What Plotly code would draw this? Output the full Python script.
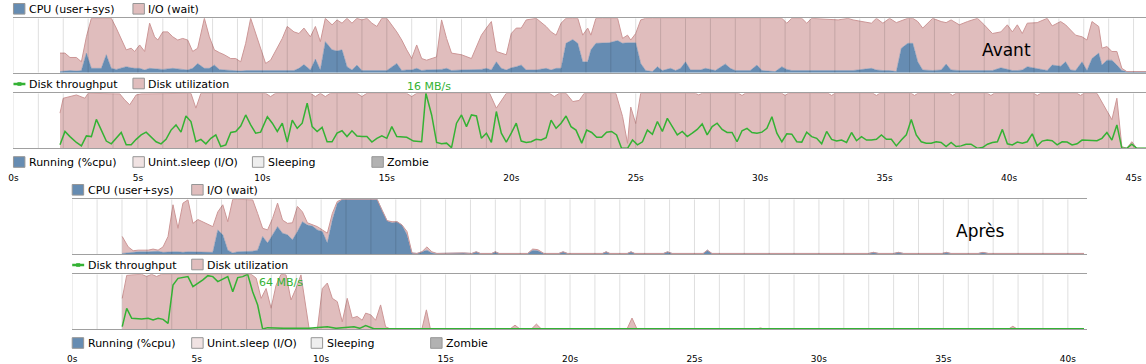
import plotly.graph_objects as go

# ---------------- DATA ----------------
# "Avant" CPU panel (time in s, percent)
avant_t = [1.87, 2.07, 2.27, 2.53, 2.73, 2.93, 3.13, 3.33, 3.53, 3.73, 3.93, 4.13, 4.33, 4.53, 4.73, 4.87, 5.07, 5.27,
           5.47, 5.67, 5.80, 6.00, 6.20, 6.40, 6.60, 6.80, 7.00, 7.20, 7.40, 7.67, 7.87, 8.07, 8.27, 8.47, 8.73, 8.93,
           9.13, 9.33, 9.53, 9.73, 9.93, 10.13, 10.33, 10.80, 11.00, 11.27, 11.47, 11.67, 11.93, 12.13, 12.33, 12.53,
           12.80, 13.00, 13.20, 13.40, 13.60, 13.80, 14.00, 14.20, 14.40, 14.60, 14.80, 15.00, 15.40, 15.60, 15.80,
           16.00, 16.20, 16.40, 16.60, 17.00, 17.20, 17.40, 17.60, 18.00, 18.40, 18.80, 19.00, 19.20, 19.40, 19.60,
           19.80, 20.00, 20.20, 20.40, 20.60, 21.00, 21.40, 21.60, 21.80, 22.00, 22.20, 22.47, 22.67, 22.87, 23.07,
           23.20, 23.40, 23.67, 23.93, 24.27, 24.47, 24.67, 24.80, 25.00, 25.20, 25.40, 25.67, 25.87, 26.07, 26.40,
           26.60, 26.80, 27.00, 27.20, 27.60, 27.80, 28.20, 28.60, 28.80, 29.00, 29.60, 29.87, 30.07, 30.60, 30.87,
           31.07, 31.27, 31.67, 31.87, 32.07, 33.13, 33.53, 33.73, 34.47, 34.67, 34.93, 35.20, 35.47, 35.67, 35.93,
           36.13, 36.33, 36.53, 36.93, 37.27, 37.47, 37.67, 38.00, 38.33, 38.73, 39.00, 39.33, 39.67, 39.93, 40.13,
           40.33, 40.53, 40.73, 41.13, 41.53, 41.73, 42.07, 42.27, 42.47, 42.67, 42.93, 43.13, 43.33, 43.60, 43.73,
           43.93, 44.13, 44.33, 44.53, 44.73, 45.51]
avant_cpu = [2, 3, 4, 3, 4, 36, 8, 8, 8, 33, 8, 6, 8, 11, 9, 8, 8, 5,
             8, 7, 6, 6, 7, 8, 7, 6, 5, 8, 17, 8, 8, 14, 6, 5, 4, 4,
             3, 4, 4, 4, 4, 4, 3, 4, 4, 4, 8, 15, 5, 25, 5, 57,
             42, 40, 42, 11, 5, 14, 4, 4, 4, 4, 4, 4, 17, 4, 5,
             5, 8, 4, 5, 6, 6, 8, 4, 5, 5, 6, 8, 5, 20, 8,
             5, 9, 11, 14, 5, 5, 8, 5, 8, 8, 54, 61, 54, 20, 20,
             42, 54, 54, 55, 59, 54, 55, 55, 55, 17, 4, 2, 11, 4, 8,
             4, 8, 20, 5, 5, 8, 4, 16, 8, 4, 4, 14, 4, 2, 11,
             6, 4, 4, 4, 4, 4, 4, 4, 8, 5, 4, 4, 2, 45, 54,
             54, 20, 5, 4, 5, 16, 5, 4, 4, 4, 4, 4, 9, 6, 4,
             4, 5, 11, 8, 4, 14, 12, 20, 5, 4, 20, 4, 26, 36, 14,
             23, 23, 14, 4, 2, 2]
avant_io = [34, 33, 24, 25, 16, 30, 92, 92, 92, 67, 92, 76, 53, 31, 36, 31, 43, 34,
            83, 59, 54, 69, 68, 58, 53, 57, 55, 31, 28, 92, 58, 28, 31, 28, 22, 22,
            17, 50, 96, 68, 41, 13, 20, 59, 81, 71, 64, 67, 61, 60, 52, 43,
            46, 57, 49, 89, 86, 86, 93, 96, 87, 81, 96, 96, 58, 56, 37,
            21, 43, 22, 18, 23, 91, 55, 32, 28, 21, 63, 74, 89, 19, 28,
            28, 63, 71, 68, 92, 95, 77, 70, 61, 83, 46, 39, 46, 49, 62,
            27, 46, 46, 45, 41, 9, 14, 5, 17, 80, 96, 98, 89, 96, 92,
            96, 92, 80, 95, 95, 92, 96, 84, 92, 96, 96, 86, 96, 98, 89,
            85, 96, 96, 87, 96, 93, 96, 93, 83, 95, 87, 96, 90, 51, 46,
            46, 74, 77, 96, 89, 76, 92, 84, 90, 96, 84, 68, 66, 82, 71,
            84, 67, 80, 84, 96, 72, 82, 68, 74, 65, 46, 56, 68, 49, 31,
            25, 16, 25, 4, 0, 0]

# "Avant" disk utilization (percent)
avant_util_t = [1.87, 2.00, 2.53, 2.87, 3.00, 4.27, 4.47, 4.67, 4.93, 5.13, 7.13, 7.33, 7.53, 10.13, 10.33, 10.53,
                11.93, 12.13, 12.33, 12.53, 12.73, 13.80, 14.00, 14.20, 15.80, 16.00, 16.20, 19.13, 19.40, 19.80,
                21.53, 21.73, 21.93, 22.20, 22.47, 22.73, 22.93, 24.20, 24.47, 24.67, 24.80, 25.00, 25.20, 27.40,
                27.53, 27.67, 29.13, 29.27, 29.40, 30.87, 31.00, 31.13, 32.73, 32.87, 33.00, 34.53, 34.67, 34.80,
                36.07, 36.20, 36.33, 37.60, 37.73, 37.87, 39.13, 39.27, 39.40, 41.00, 41.13, 41.27, 42.73, 42.87,
                43.00, 43.53, 44.13, 44.33, 44.53, 44.73, 44.93, 45.13, 45.51]
avant_util = [64, 91, 97, 91, 100, 99, 88, 79, 97, 99, 100, 73, 100, 100, 94, 100,
              100, 94, 100, 94, 100, 100, 94, 100, 100, 94, 100, 100, 73, 100,
              100, 94, 100, 100, 85, 87, 100, 100, 58, 9, 75, 45, 100, 100,
              97, 100, 100, 96, 100, 100, 96, 100, 100, 96, 100, 100, 96, 100,
              100, 96, 100, 100, 96, 100, 100, 96, 100, 100, 96, 100, 100, 96,
              100, 100, 52, 91, 3, 0, 12, 0, 0]

# "Avant" disk throughput (MB/s)
avant_tput_t = [1.87, 2.07, 2.27, 2.53, 2.73, 2.93, 3.13, 3.33, 3.53, 3.73, 3.93, 4.13, 4.33, 4.53, 4.73, 4.93,
                5.13, 5.33, 5.53, 5.73, 5.93, 6.13, 6.33, 6.53, 6.73, 6.93, 7.13, 7.33, 7.53, 7.73, 7.93, 8.13,
                8.33, 8.53, 8.73, 8.93, 9.13, 9.33, 9.53, 9.73, 9.93, 10.20, 10.40, 10.60, 10.80, 11.00, 11.20,
                11.40, 11.60, 11.80, 12.00, 12.20, 12.40, 12.60, 12.80, 13.00, 13.20, 13.40, 13.60, 13.80, 14.00,
                14.20, 14.40, 14.60, 14.80, 15.00, 15.20, 15.40, 15.80, 16.07, 16.40, 16.57, 16.80, 17.00, 17.20,
                17.40, 17.60, 17.80, 18.00, 18.20, 18.40, 18.60, 18.80, 19.00, 19.20, 19.40, 19.60, 19.80, 20.00,
                20.20, 20.40, 20.60, 20.80, 21.00, 21.20, 21.40, 21.60, 21.80, 22.00, 22.20, 22.40, 22.60, 22.83,
                23.03, 23.23, 23.43, 23.63, 23.83, 24.03, 24.23, 24.43, 24.67, 24.87, 25.07, 25.27, 25.47, 25.67,
                25.87, 26.07, 26.27, 26.47, 26.67, 26.87, 27.07, 27.27, 27.47, 27.67, 27.87, 28.07, 28.27, 28.47,
                28.67, 28.87, 29.07, 29.27, 29.47, 29.67, 29.87, 30.07, 30.27, 30.47, 30.67, 30.87, 31.07, 31.27,
                31.47, 31.67, 31.87, 32.07, 32.27, 32.47, 32.67, 32.87, 33.07, 33.27, 33.47, 33.67, 33.87, 34.07,
                34.27, 34.47, 34.67, 34.87, 35.07, 35.27, 35.47, 35.67, 35.87, 36.07, 36.27, 36.47, 36.67, 36.87,
                37.07, 37.27, 37.47, 37.67, 37.87, 38.07, 38.27, 38.47, 38.73, 38.93, 39.13, 39.33, 39.53, 39.73,
                39.93, 40.13, 40.33, 40.53, 40.73, 40.93, 41.13, 41.33, 41.53, 41.73, 41.93, 42.13, 42.33, 42.53,
                42.73, 42.93, 43.13, 43.33, 43.53, 43.73, 43.93, 44.13, 44.33, 44.53, 44.73, 44.93, 45.13, 45.51]
avant_tput = [1.0, 4.9, 3.4, 1.7, 0.7, 3.6, 3.4, 8.4, 5.3, 2.1, 1.3, 2.9, 4.6, 1.0, 1.0, 2.6,
              3.9, 4.7, 3.4, 1.9, 1.3, 2.6, 5.3, 6.8, 4.7, 9.4, 7.8, 1.9, 2.6, 1.3, 2.9, 3.9,
              0.5, 1.0, 4.6, 4.9, 6.5, 9.7, 6.8, 4.4, 4.7, 9.2, 7.3, 4.9, 7.3, 1.8, 8.2,
              5.8, 7.3, 13.1, 6.3, 4.9, 6.1, 1.9, 1.9, 4.4, 5.1, 3.4, 5.1, 3.6, 3.4,
              3.4, 1.8, 2.9, 3.6, 2.9, 6.3, 3.4, 3.2, 2.1, 1.9, 16.0, 9.7, 1.7, 1.3,
              1.5, 0.2, 7.3, 9.7, 6.3, 9.7, 9.4, 2.9, 4.4, 1.7, 10.7, 4.4, 1.8, 4.4,
              7.3, 2.1, 1.7, 1.9, 2.6, 2.4, 3.1, 8.2, 5.8, 7.3, 9.4, 6.3, 5.3, 1.5,
              5.3, 4.6, 3.2, 3.2, 4.7, 4.9, 3.9, 0.0, 0.0, 2.4, 1.0, 1.9, 5.3, 4.1,
              7.8, 4.9, 8.7, 6.3, 3.9, 4.9, 3.4, 4.4, 5.5, 7.1, 3.9, 6.3, 7.3, 5.5,
              4.6, 4.6, 1.9, 5.1, 5.8, 4.6, 4.4, 4.7, 5.8, 9.2, 4.4, 1.9, 4.2, 4.1,
              1.9, 1.8, 4.7, 3.4, 2.9, 1.3, 4.9, 2.6, 2.1, 2.4, 1.7, 4.6, 2.2, 3.4,
              2.4, 2.4, 2.6, 3.9, 2.6, 2.6, 0.7, 2.4, 3.9, 8.4, 3.9, 1.9, 1.5, 1.5,
              1.9, 1.7, 0.5, 1.7, 0.5, 0.7, 1.2, 1.2, 0.0, 0.2, 1.2, 1.7, 1.9, 5.5,
              1.3, 1.0, 1.8, 1.5, 1.9, 4.2, 0.7, 2.1, 2.4, 2.2, 1.0, 1.9, 1.8, 1.0,
              1.3, 2.4, 2.4, 2.4, 2.2, 2.9, 4.6, 2.4, 6.8, 0.0, 0.0, 1.2, 0.0, 0.0]

# "Après" CPU panel
apres_t = [2.01, 2.25, 2.45, 2.65, 3.05, 3.25, 3.45, 3.65, 3.85, 4.05, 4.25, 4.45, 4.65, 4.85, 5.05, 5.25, 5.45,
           5.65, 5.85, 6.05, 6.25, 6.45, 6.65, 7.05, 7.25, 7.45, 7.65, 7.85, 8.05, 8.25, 8.45, 8.65, 8.85, 9.05,
           9.25, 9.45, 9.65, 9.85, 10.05, 10.25, 10.45, 10.65, 10.85, 12.25, 12.45, 12.65, 12.85, 13.05, 13.25,
           13.45, 13.65, 13.85, 14.05, 14.25, 14.45, 14.65, 15.72, 16.05, 16.23, 16.4, 16.85, 17.0, 17.15, 18.3,
           18.5, 18.7, 18.95, 19.55, 19.72, 19.9, 21.3, 21.45, 21.6, 22.3, 22.45, 22.6, 23.75, 23.92, 24.1, 25.35,
           25.52, 25.7, 32.0, 32.19, 32.4, 33.0, 33.19, 33.4, 34.95, 35.12, 35.3, 36.4, 36.59, 36.8, 40.65]
apres_cpu = [1, 2, 4, 4, 4, 4, 5, 3, 4, 4, 4, 3, 4, 4, 4, 4, 3,
             3, 44, 35, 7, 2, 4, 4, 5, 7, 32, 20, 35, 50, 38, 35, 26, 41,
             59, 53, 51, 44, 41, 20, 62, 93, 100, 100, 80, 61, 57, 59, 53,
             35, 2, 1, 4, 7, 2, 1, 2, 1, 4, 1, 1, 4, 1, 1,
             7, 6, 1, 1, 4, 1, 1, 4, 1, 1, 4, 1, 1, 4, 1, 1,
             7, 1, 1, 3, 1, 1, 3, 1, 1, 3, 1, 1, 3, 1, 1]
apres_io = [31, 11, 2, 3, 3, 5, 2, 10, 28, 86, 43, 90, 95, 52, 59, 55, 51,
            47, 33, 55, 52, 98, 96, 96, 94, 67, 15, 24, 30, 43, 24, 21, 31, 46,
            18, 4, 2, 6, 3, 18, 12, 3, 0, 0, 0, 0, 2, 0, 0,
            6, 0, 0, 0, 6, 2, 0, 0, 0, 0, 0, 0, 0, 0, 0,
            2, 2, 0, 0, 0, 0, 0, 0, 0, 0, 0, 0, 0, 0, 0, 0,
            0, 0, 0, 0, 0, 0, 0, 0, 0, 0, 0, 0, 0, 0, 0]

# "Après" disk utilization (percent)
apres_util_t = [2.01, 2.19, 2.39, 2.79, 2.99, 3.19, 3.39, 3.59, 7.19, 7.39, 7.59, 7.79, 7.99, 8.19, 8.39, 8.59,
                8.79, 8.99, 9.19, 9.52, 9.85, 10.05, 10.25, 10.45, 10.65, 10.85, 11.05, 11.25, 11.45, 11.65,
                11.79, 11.99, 12.19, 12.39, 12.59, 12.79, 14.05, 14.23, 14.39, 17.59, 17.79, 17.99, 18.45, 18.65,
                18.85, 22.29, 22.49, 22.69, 27.5, 27.65, 27.8, 37.62, 37.79, 37.96, 40.65]
apres_util = [56, 98, 99, 100, 96, 100, 96, 100, 100, 93, 56, 74, 38, 80, 100, 99,
              53, 74, 99, 0, 0, 74, 84, 56, 50, 13, 56, 20, 23, 16,
              29, 26, 16, 44, 4, 0, 0, 35, 0, 0, 7, 0, 0, 9,
              0, 0, 20, 0, 0, 2, 0, 0, 5, 0, 0]

# "Après" disk throughput (MB/s)
apres_tput_t = [2.01, 2.19, 2.39, 2.59, 2.79, 3.05, 3.25, 3.45, 3.65, 3.85, 4.05, 4.25, 4.45, 4.65, 4.85, 5.05,
                5.25, 5.45, 5.65, 5.85, 6.05, 6.25, 6.45, 6.65, 6.85, 7.05, 7.25, 7.45, 7.65, 7.85, 8.5, 9.5,
                10.25, 10.6, 11.32, 11.55, 11.79, 12.12, 40.65]
apres_tput = [2.7, 24.2, 12.5, 11.7, 11.7, 12.5, 10.5, 12.5, 11.3, 6.6, 51.5, 59.3, 60.1, 61.3, 49.6, 53.5,
              57.4, 62.4, 61.3, 55.4, 58.5, 61.3, 43.7, 60.1, 61.3, 64.0, 43.7, 28.1, 0.0, 1.6, 0.8, 0.8,
              2.7, 0.8, 2.7, 0.8, 3.9, 0.3, 0.3]

avant_tput_label = "16 MB/s"
apres_tput_label = "64 MB/s"
cpu_legend = ["CPU (user+sys)", "I/O (wait)"]
disk_legend = ["Disk throughput", "Disk utilization"]
proc_legend = ["Running (%cpu)", "Unint.sleep (I/O)", "Sleeping", "Zombie"]

# ---------------- STYLE ----------------
W, H = 1146, 364
FONT = "DejaVu Sans"
CPU_COL = "rgb(102,140,178)"
IO_FILL = "rgb(224,189,189)"
IO_LINE = "rgb(204,150,150)"
TPUT_COL = "rgb(52,178,52)"
BORDER = "rgb(160,160,160)"
GRID = "rgba(0,0,0,0.13)"
PROC_COLS = [CPU_COL, "rgb(240,226,226)", "rgb(238,238,238)", "rgb(178,178,178)"]


def xd(px):
    return px / W


def yd(py):
    return 1 - py / H


panels = {
    "top": dict(x0=8.5, x1=1146.0, cpu=(18.3, 72.7), disk=(93.3, 148.3), dy=0),
    "bot": dict(x0=67.5, x1=1087.0, cpu=(199.3, 254.0), disk=(274.3, 329.0), dy=181),
}
SEC = 25.0  # px per second

fig = go.Figure()


def grid_trace(xa, ya, tmax):
    gx, gy = [], []
    for s in range(0, int(tmax) + 1):
        gx += [s, s, None]
        gy += [0, 100, None]
    return go.Scatter(x=gx, y=gy, xaxis=xa, yaxis=ya, mode="lines",
                      line=dict(color=GRID, width=1), hoverinfo="skip", showlegend=False)


# Avant CPU
fig.add_trace(go.Scatter(x=avant_t, y=avant_cpu, xaxis="x", yaxis="y", stackgroup="a",
                         mode="lines", line=dict(color=CPU_COL, width=0.5), fillcolor=CPU_COL,
                         showlegend=False, hoverinfo="skip"))
fig.add_trace(go.Scatter(x=avant_t, y=avant_io, xaxis="x", yaxis="y", stackgroup="a",
                         mode="lines", line=dict(color=IO_LINE, width=1), fillcolor=IO_FILL,
                         showlegend=False, hoverinfo="skip"))
# Avant disk util
fig.add_trace(go.Scatter(x=avant_util_t, y=avant_util, xaxis="x2", yaxis="y2", fill="tozeroy",
                         mode="lines", line=dict(color=IO_LINE, width=1), fillcolor=IO_FILL,
                         showlegend=False, hoverinfo="skip"))
# Après CPU
fig.add_trace(go.Scatter(x=apres_t, y=apres_cpu, xaxis="x3", yaxis="y3", stackgroup="b",
                         mode="lines", line=dict(color=CPU_COL, width=0.5), fillcolor=CPU_COL,
                         showlegend=False, hoverinfo="skip"))
fig.add_trace(go.Scatter(x=apres_t, y=apres_io, xaxis="x3", yaxis="y3", stackgroup="b",
                         mode="lines", line=dict(color=IO_LINE, width=1), fillcolor=IO_FILL,
                         showlegend=False, hoverinfo="skip"))
# Après disk util
fig.add_trace(go.Scatter(x=apres_util_t, y=apres_util, xaxis="x4", yaxis="y4", fill="tozeroy",
                         mode="lines", line=dict(color=IO_LINE, width=1), fillcolor=IO_FILL,
                         showlegend=False, hoverinfo="skip"))

tmax_top = (panels["top"]["x1"] - panels["top"]["x0"]) / SEC
tmax_bot = (panels["bot"]["x1"] - panels["bot"]["x0"]) / SEC
fig.add_trace(grid_trace("x", "y", tmax_top))
fig.add_trace(grid_trace("x2", "y2", tmax_top))
fig.add_trace(grid_trace("x3", "y3", tmax_bot))
fig.add_trace(grid_trace("x4", "y4", tmax_bot))

# throughput lines (overlay axes)
fig.add_trace(go.Scatter(x=avant_tput_t, y=avant_tput, xaxis="x2", yaxis="y5", mode="lines",
                         line=dict(color=TPUT_COL, width=1.5), showlegend=False, hoverinfo="skip"))
fig.add_trace(go.Scatter(x=apres_tput_t, y=apres_tput, xaxis="x4", yaxis="y6", mode="lines",
                         line=dict(color=TPUT_COL, width=1.5), showlegend=False, hoverinfo="skip"))


def xaxis(p, anchor, labels):
    d = dict(domain=[xd(p["x0"]), min(1.0, xd(p["x1"]))], range=[0, (p["x1"] - p["x0"]) / SEC],
             anchor=anchor, showgrid=False, zeroline=False, showline=True, mirror=True,
             linecolor=BORDER, linewidth=1, ticks="", fixedrange=True)
    if labels:
        d.update(showticklabels=True, tickmode="linear", tick0=0, dtick=5, ticksuffix="s",
                 tickfont=dict(family=FONT, size=9, color="#000"), ticklabelstandoff=21)
    else:
        d.update(showticklabels=False)
    return d


def yaxis(rng, anchor, top, bot, overlay=None):
    d = dict(range=rng, anchor=anchor, showgrid=False, zeroline=False, showline=False,
             showticklabels=False, ticks="", fixedrange=True)
    if overlay:
        d.update(overlaying=overlay, visible=False)
    else:
        d.update(domain=[yd(bot), yd(top)])
    return d


pt, pb = panels["top"], panels["bot"]
fig.update_layout(
    width=W, height=H, margin=dict(l=0, r=0, t=0, b=0), autosize=False,
    paper_bgcolor="white", plot_bgcolor="rgba(0,0,0,0)", showlegend=False, hovermode=False,
    font=dict(family=FONT, size=11, color="#000"),
    xaxis=xaxis(pt, "y", False), yaxis=yaxis([0, 100], "x", *pt["cpu"]),
    xaxis2=xaxis(pt, "y2", True), yaxis2=yaxis([0, 100], "x2", *pt["disk"]),
    xaxis3=xaxis(pb, "y3", False), yaxis3=yaxis([0, 100], "x3", *pb["cpu"]),
    xaxis4=xaxis(pb, "y4", True), yaxis4=yaxis([0, 100], "x4", *pb["disk"]),
    yaxis5=yaxis([0, max(avant_tput)], "x2", 0, 0, overlay="y2"),
    yaxis6=yaxis([0, max(apres_tput)], "x4", 0, 0, overlay="y4"),
)

shapes, annots = [], []


def square(px, cy, color):
    shapes.append(dict(type="rect", xref="paper", yref="paper", x0=xd(px), x1=xd(px + 11.5),
                       y0=yd(cy + 5.3), y1=yd(cy - 5.3), fillcolor=color,
                       line=dict(color="rgb(150,150,150)", width=1), layer="above"))


def label(px, cy, text, size=11, color="#000"):
    annots.append(dict(xref="paper", yref="paper", x=xd(px), y=yd(cy), text=text, showarrow=False,
                       xanchor="left", yanchor="middle", font=dict(family=FONT, size=size, color=color)))


for key, p in panels.items():
    lx = p["x0"]
    dy = p["dy"]
    # CPU legend
    square(lx, 8.8 + dy, CPU_COL)
    label(lx + 13.5, 9.0 + dy, cpu_legend[0])
    square(lx + 120, 8.8 + dy, IO_FILL)
    label(lx + 133.5, 9.0 + dy, cpu_legend[1])
    # Disk legend
    cy = 84.0 + dy
    shapes.append(dict(type="line", xref="paper", yref="paper", x0=xd(lx), x1=xd(lx + 12),
                       y0=yd(cy), y1=yd(cy), line=dict(color=TPUT_COL, width=2.5)))
    shapes.append(dict(type="rect", xref="paper", yref="paper", x0=xd(lx + 4), x1=xd(lx + 8),
                       y0=yd(cy + 1.8), y1=yd(cy - 1.8), fillcolor=TPUT_COL, line=dict(width=0)))
    label(lx + 13.5, cy, disk_legend[0])
    square(lx + 120, cy - 0.5, IO_FILL)
    label(lx + 133.5, cy, disk_legend[1])
    # Process legend
    cy = 162.0 + dy
    for i, (name, col) in enumerate(zip(proc_legend, PROC_COLS)):
        square(lx + 120 * i, cy, col)
        label(lx + 120 * i + 13.5, cy, name)

# Titles
annots.append(dict(xref="paper", yref="paper", x=xd(1006), y=yd(50), text="Avant", showarrow=False,
                   xanchor="center", yanchor="middle", font=dict(family=FONT, size=17, color="#000")))
annots.append(dict(xref="paper", yref="paper", x=xd(979), y=yd(231), text="Après", showarrow=False,
                   xanchor="center", yanchor="middle", font=dict(family=FONT, size=17, color="#000")))
# Max throughput labels
annots.append(dict(xref="x2", yref="paper", x=(402.0 - pt["x0"]) / SEC, y=yd(86.3), text=avant_tput_label,
                   showarrow=False, xanchor="left", yanchor="middle",
                   font=dict(family=FONT, size=11, color=TPUT_COL)))
annots.append(dict(xref="x4", yref="paper", x=(253.0 - pb["x0"]) / SEC, y=yd(282.0), text=apres_tput_label,
                   showarrow=False, xanchor="left", yanchor="middle",
                   font=dict(family=FONT, size=11, color=TPUT_COL)))

fig.update_layout(shapes=shapes, annotations=annots)
fig.write_html("out.html", config={"displayModeBar": False, "staticPlot": True},
               post_script="document.body.style.margin='0';document.body.style.overflow='hidden';")
